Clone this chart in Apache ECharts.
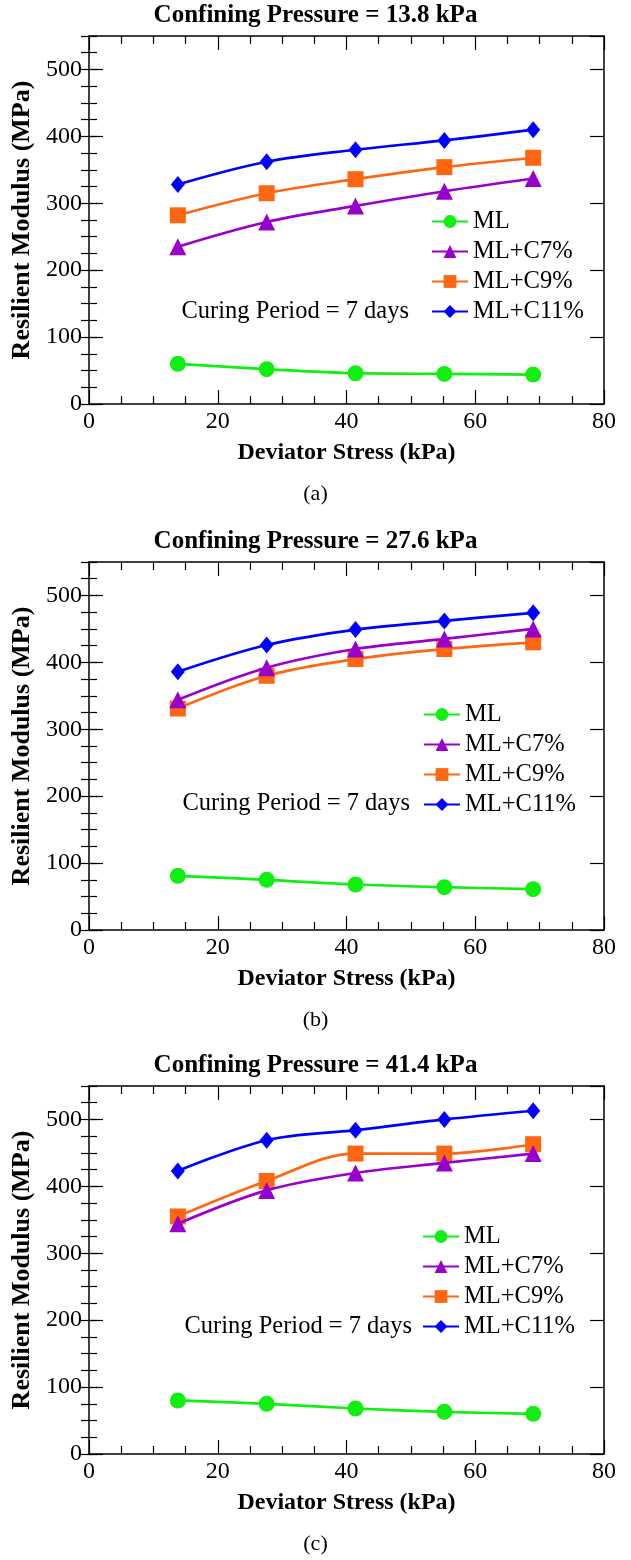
<!DOCTYPE html>
<html>
<head>
<meta charset="utf-8">
<script src="https://cdn.jsdelivr.net/npm/echarts@6/dist/echarts.min.js"></script>
<style>
	html, body { margin: 0; padding: 0; background: #fff; }
	#main { width: 631px; height: 1560px; }
</style>
</head>
<body>
<div id="main"></div>
<script>
// deviator stress (kPa)
var stress = [13.8, 27.6, 41.4, 55.2, 69.0];
var seriesNames = ['ML', 'ML+C7%', 'ML+C9%', 'ML+C11%'];

// (a) confining pressure 13.8 kPa
var mlA = [60, 52, 46, 45, 44];
var c7A = [235, 272, 296, 318, 337];
var c9A = [282, 315, 336, 354, 368];
var c11A = [328, 362, 380, 394, 410];

// (b) confining pressure 27.6 kPa
var mlB = [81, 75, 68, 64, 61];
var c7B = [344, 392, 420, 435, 450];
var c9B = [331, 380, 405, 420, 430];
var c11B = [386, 426, 449, 462, 474];

// (c) confining pressure 41.4 kPa
var mlC = [80, 75, 68, 63, 60];
var c7C = [344, 394, 420, 435, 449];
var c9C = [355, 408, 449, 449, 463];
var c11C = [423, 469, 484, 500, 513];

var panelTitles = ['Confining Pressure = 13.8 kPa', 'Confining Pressure = 27.6 kPa', 'Confining Pressure = 41.4 kPa'];
var panelTags = ['(a)', '(b)', '(c)'];
var curingText = 'Curing Period = 7 days';
var xAxisName = 'Deviator Stress (kPa)';
var yAxisName = 'Resilient Modulus (MPa)';

var panelData = [
	[mlA, c7A, c9A, c11A],
	[mlB, c7B, c9B, c11B],
	[mlC, c7C, c9C, c11C]
];

// layout
var FONT = 'Liberation Serif';
var gridTops = [36, 562, 1086];
var gridHeight = 368;
var gridLeft = 89;
var gridWidth = 515;
var legendTops = [204, 697, 1219];
var legendLefts = [426, 418, 417];
var curingY = [310, 802, 1325];
var curingRight = [409, 410, 412];

var colors = ['#11ee11', '#9900cc', '#ff6611', '#0000ff'];
var symbols = ['circle', 'triangle', 'rect', 'diamond'];
var symbolSizes = [16, 17, 16, [14, 17]];

function makePoints(values){
	var pts = [];
	for (var i = 0; i < stress.length; i++) {
		pts.push([stress[i], values[i]]);
	}
	return pts;
}

var option = {
	animation: false,
	backgroundColor: '#fff',
	grid: [],
	xAxis: [],
	yAxis: [],
	legend: [],
	series: [],
	graphic: []
};

for (var p = 0; p < 3; p++) {
	option.grid.push({
		left: gridLeft, top: gridTops[p], width: gridWidth, height: gridHeight,
		show: false
	});

	// bottom x axis
	option.xAxis.push({
		type: 'value', gridIndex: p, position: 'bottom',
		min: 0, max: 80, interval: 20,
		name: xAxisName, nameLocation: 'middle', nameGap: 37,
		nameTextStyle: { fontFamily: FONT, fontSize: 24, fontWeight: 'bold', color: '#000' },
		axisLine: { show: true, onZero: false, lineStyle: { color: '#000', width: 1.5 } },
		axisTick: { show: true, inside: true, length: 14, lineStyle: { color: '#000', width: 1.2 } },
		minorTick: { show: true, splitNumber: 4, length: 8, lineStyle: { color: '#000', width: 1.2 } },
		axisLabel: { fontFamily: FONT, fontSize: 24, color: '#000', margin: 6 },
		splitLine: { show: false }
	});
	// top x axis (mirror ticks)
	option.xAxis.push({
		type: 'value', gridIndex: p, position: 'top',
		min: 0, max: 80, interval: 20,
		axisLine: { show: true, onZero: false, lineStyle: { color: '#000', width: 1.5 } },
		axisTick: { show: true, inside: true, length: 14, lineStyle: { color: '#000', width: 1.2 } },
		minorTick: { show: true, splitNumber: 4, length: 8, lineStyle: { color: '#000', width: 1.2 } },
		axisLabel: { show: false },
		splitLine: { show: false }
	});

	// left y axis, major ticks + labels
	option.yAxis.push({
		type: 'value', gridIndex: p, position: 'left',
		min: 0, max: 550, interval: 100,
		name: yAxisName, nameLocation: 'middle', nameGap: 50,
		nameTextStyle: { fontFamily: FONT, fontSize: 26, fontWeight: 'bold', color: '#000' },
		axisLine: { show: true, onZero: false, lineStyle: { color: '#000', width: 1.5 } },
		axisTick: { show: true, inside: true, length: 14, lineStyle: { color: '#000', width: 1.2 } },
		axisLabel: {
			fontFamily: FONT, fontSize: 24, color: '#000', margin: 7,
			showMaxLabel: false,
			formatter: function(v){ return v % 100 === 0 ? String(v) : ''; }
		},
		splitLine: { show: false }
	});
	// left y axis, minor ticks every 25
	option.yAxis.push({
		type: 'value', gridIndex: p, position: 'left',
		min: 0, max: 550, interval: 25,
		axisLine: { show: false },
		axisTick: { show: true, inside: true, length: 8, lineStyle: { color: '#000', width: 1.2 } },
		axisLabel: { show: false },
		splitLine: { show: false }
	});
	// right y axis, major ticks
	option.yAxis.push({
		type: 'value', gridIndex: p, position: 'right',
		min: 0, max: 550, interval: 100,
		axisLine: { show: true, onZero: false, lineStyle: { color: '#000', width: 1.5 } },
		axisTick: { show: true, inside: true, length: 14, lineStyle: { color: '#000', width: 1.2 } },
		axisLabel: { show: false },
		splitLine: { show: false }
	});
	// right y axis, minor ticks
	option.yAxis.push({
		type: 'value', gridIndex: p, position: 'right',
		min: 0, max: 550, interval: 25,
		axisLine: { show: false },
		axisTick: { show: true, inside: true, length: 8, lineStyle: { color: '#000', width: 1.2 } },
		axisLabel: { show: false },
		splitLine: { show: false }
	});

	for (var s = 0; s < 4; s++) {
		option.series.push({
			name: seriesNames[s],
			type: 'line',
			xAxisIndex: p * 2,
			yAxisIndex: p * 4,
			data: makePoints(panelData[p][s]),
			smooth: 0.35,
			symbol: symbols[s],
			symbolSize: symbolSizes[s],
			z: 10 - s,
			itemStyle: { color: colors[s] },
			lineStyle: { color: colors[s], width: 2.7 }
		});
	}

	option.legend.push({
		data: seriesNames,
		orient: 'vertical',
		left: legendLefts[p], top: legendTops[p],
		itemWidth: 36, itemHeight: 16, itemGap: 5,
		textStyle: { fontFamily: FONT, fontSize: 24.5, color: '#000', lineHeight: 25 },
		selectedMode: false
	});

	option.graphic.push({
		type: 'text', left: 'center', top: gridTops[p] - 33,
		style: { text: panelTitles[p], font: 'bold 25px "Liberation Serif"', fill: '#000' }
	});
	option.graphic.push({
		type: 'text', left: 'center', top: gridTops[p] + 447,
		style: { text: panelTags[p], font: '22px "Liberation Serif"', fill: '#000' }
	});
	option.graphic.push({
		type: 'text', right: 631 - curingRight[p], top: curingY[p] - 11,
		style: { text: curingText, font: '24.5px "Liberation Serif"', fill: '#000' }
	});
}

var myChart = echarts.init(document.getElementById('main'), null, { renderer: 'canvas' });
myChart.setOption(option);
</script>
</body>
</html>
